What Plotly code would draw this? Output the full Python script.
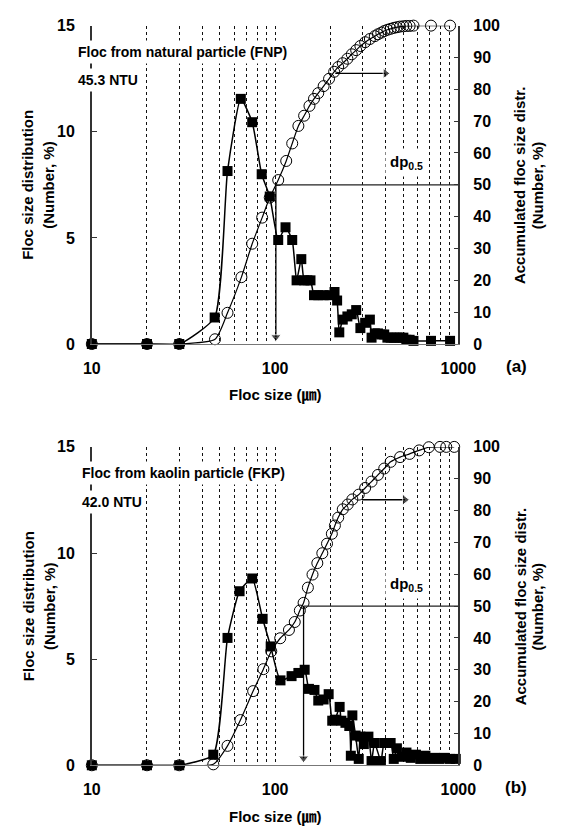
import plotly.graph_objects as go

# ---------------- data ----------------
# (a) Floc from natural particle (FNP)
x_a_sq = [10, 20, 30, 46.8, 55, 65, 75, 84.5, 93.5, 104, 114, 124, 131, 139, 144, 150, 156, 163, 172,
          184, 198, 211, 218, 224, 234, 248, 262, 277, 292, 310, 329, 336, 350, 364, 380, 394, 410, 427,
          445, 462, 480, 501, 520, 542, 569, 709, 901]
y_a_sq = [0, 0, 0, 1.25, 8.15, 11.55, 10.45, 8.0, 6.95, 4.9, 5.5, 4.9, 3.0, 4.0, 3.0, 3.0, 3.0, 2.3, 2.3,
          2.3, 2.3, 2.45, 2.05, 0.55, 1.15, 1.3, 1.4, 1.6, 0.75, 1.0, 1.15, 0.3, 0.5, 0.5, 0.45, 0.45, 0.3, 0.3,
          0.3, 0.3, 0.3, 0.3, 0.2, 0.2, 0.15, 0.15, 0.15]
x_a_cum = [10, 20, 30, 47, 55, 65.5, 75, 85, 93.5, 104, 115, 124, 134, 144, 154, 163, 172, 184, 197,
           210, 221, 234, 248, 262, 277, 292, 310, 329, 350, 364, 380, 394, 410, 427, 445, 462, 480,
           501, 520, 542, 569, 709, 901]
y_a_cum = [0, 0, 0, 1.5, 9.8, 21, 31.5, 39.7, 46, 51.5, 57.5, 63, 68.5, 71.7, 74.8, 77, 78.8, 81, 83.3,
           85.5, 87, 88.2, 89.6, 91, 92.3, 93.6, 94.8, 95.8, 96.7, 97.3, 97.8, 98.3, 98.7, 99.0, 99.3, 99.5,
           99.7, 99.8, 99.9, 99.9, 100, 100, 100]

# (b) Floc from kaolin particle (FKP)
x_b_sq = [10, 20, 30, 46, 55, 64, 75, 85.5, 94.6, 107, 123, 134, 145, 153, 164, 172, 184, 196, 205,
          212, 225, 230, 242, 254, 259, 264, 275, 286, 292, 305, 323, 336, 349, 378, 394, 427, 444, 462,
          490, 521, 550, 587, 620, 661, 700, 746, 790, 841, 900, 968]
y_b_sq = [0, 0, 0, 0.5, 6.0, 8.2, 8.8, 6.9, 5.6, 4.0, 4.2, 4.35, 4.5, 3.6, 3.55, 3.05, 3.1, 3.35, 2.1,
          2.15, 2.75, 2.1, 2.0, 1.85, 0.45, 2.35, 1.4, 0.3, 1.35, 1.0, 1.35, 0.2, 1.05, 0.2, 1.05, 1.05, 0.3, 0.8,
          0.4, 0.6, 0.35, 0.5, 0.3, 0.45, 0.3, 0.35, 0.3, 0.35, 0.3, 0.3]
x_b_cum = [10, 20, 30, 46, 55, 64.7, 75.9, 86.3, 95.3, 106.6, 119, 128, 136.5, 143, 151, 160, 170, 181,
           192, 204, 212, 221, 234, 249, 264, 286, 310, 336, 364, 394, 427, 481, 542, 611, 690, 794, 859, 949]
y_b_cum = [0, 0, 0, 0.3, 6.1, 14.2, 23.3, 30.2, 35.8, 39.9, 42.5, 45.0, 48.6, 51.0, 55.8, 59.9, 63.5, 66.6,
           69.6, 72.7, 75.3, 77.8, 80.4, 81.9, 83.5, 85, 87.1, 89.1, 91.2, 93.2, 95.3, 96.8, 97.8, 98.9, 99.9,
           100, 100, 100]

# dp0.5 markers and the "read on right axis" arrows
dp05 = [101, 143]              # floc size at 50 % accumulated
arrow_y = [85, 83.4]           # accumulated % level of the right-pointing arrow
arrow_x0 = [213, 298]
arrow_x1 = [400, 511]

panel_titles = ["Floc from natural particle (FNP)", "Floc from kaolin particle (FKP)"]
turbidity = ["45.3 NTU", "42.0 NTU"]
panel_tags = ["(a)", "(b)"]

grid_vals = [10, 20, 30, 40, 50, 60, 70, 80, 90, 100, 200, 300, 400, 500, 600, 700, 800, 900, 1000]
grid_text = ["10", "", "", "", "", "", "", "", "", "100", "", "", "", "", "", "", "", "", "1000"]
left_ticks = [0, 5, 10, 15]
right_ticks = list(range(0, 101, 10))

# ---------------- layout geometry (pixels) ----------------
W, H = 563, 836
FONT = "Liberation Sans, Arial, Noto Sans CJK KR, sans-serif"
PX0, PX1 = 87, 472
panels_top = [18, 448]
PH = 325

def px(x):
    return x / W

def py(y):
    return 1 - y / H

fig = go.Figure()
layout = {}
annotations = []

datasets = [(x_a_sq, y_a_sq, x_a_cum, y_a_cum), (x_b_sq, y_b_sq, x_b_cum, y_b_cum)]

for i, (xs, ys, xc, yc) in enumerate(datasets):
    top = panels_top[i]
    bot = top + PH
    xn = "x" if i == 0 else "x2"
    yl = "y" if i == 0 else "y3"
    yr = "y2" if i == 0 else "y4"
    xk = "xaxis" if i == 0 else "xaxis2"
    ylk = "yaxis" if i == 0 else "yaxis3"
    yrk = "yaxis2" if i == 0 else "yaxis4"

    # cumulative (right axis)
    fig.add_trace(go.Scatter(
        x=xc, y=yc, xaxis=xn, yaxis=yr, mode="lines+markers",
        line=dict(color="black", width=1.2, shape="spline", smoothing=0.6),
        marker=dict(symbol="circle-open", size=11, color="black", line=dict(width=1)),
        cliponaxis=False, showlegend=False))
    # 50 % level line
    fig.add_trace(go.Scatter(
        x=[dp05[i], 1000], y=[50, 50], xaxis=xn, yaxis=yr, mode="lines",
        line=dict(color="#222", width=1.3), showlegend=False, hoverinfo="skip"))
    # dp0.5 vertical arrow (down to the axis)
    fig.add_trace(go.Scatter(
        x=[dp05[i], dp05[i]], y=[50, 2.2], xaxis=xn, yaxis=yr, mode="lines+markers",
        line=dict(color="black", width=1.3),
        marker=dict(symbol="triangle-down", size=[0, 9], color="black"),
        cliponaxis=False, showlegend=False, hoverinfo="skip"))
    # right pointing arrow towards the right axis
    fig.add_trace(go.Scatter(
        x=[arrow_x0[i], arrow_x1[i]], y=[arrow_y[i], arrow_y[i]], xaxis=xn, yaxis=yr,
        mode="lines+markers", line=dict(color="black", width=1.3),
        marker=dict(symbol="triangle-right", size=[0, 9], color="black"),
        showlegend=False, hoverinfo="skip"))
    # distribution (left axis)
    fig.add_trace(go.Scatter(
        x=xs, y=ys, xaxis=xn, yaxis=yl, mode="lines+markers",
        line=dict(color="black", width=1.5, shape="spline", smoothing=0.5),
        marker=dict(symbol="square", size=10, color="black"),
        cliponaxis=False, showlegend=False))

    dom_y = [py(bot), py(top)]
    layout[xk] = dict(
        domain=[px(PX0), px(PX1)], anchor=yl, type="log", range=[1, 3],
        tickvals=grid_vals, ticktext=grid_text, ticks="",
        showgrid=True, griddash="dot", gridcolor="#111", gridwidth=1,
        showline=True, linecolor="#777", linewidth=1, zeroline=False,
        tickfont=dict(family=FONT, size=16, color="black", weight="bold"),
        ticklabelstandoff=10)
    layout[ylk] = dict(
        domain=dom_y, anchor=xn, range=[0, 15], tickvals=left_ticks,
        ticks="inside", ticklen=5, tickcolor="#333", showgrid=False, zeroline=False,
        showline=True, linecolor="#333", linewidth=1.5,
        tickfont=dict(family=FONT, size=16, color="black", weight="bold"),
        ticklabelstandoff=12)
    layout[yrk] = dict(
        overlaying=yl, side="right", anchor=xn, range=[0, 100], tickvals=right_ticks,
        ticks="inside", ticklen=5, tickcolor="#333", showgrid=False, zeroline=False,
        showline=True, linecolor="#333", linewidth=1.5,
        tickfont=dict(family=FONT, size=16, color="black", weight="bold"),
        ticklabelstandoff=10)

    f = dict(family=FONT, color="black")
    mid = (top + bot) / 2
    b = lambda s: "<b>" + s + "</b>"
    annotations += [
        dict(text=b(panel_titles[i]), x=px(68 if i == 0 else 72), y=py(top + 27), xref="paper", yref="paper",
             xanchor="left", yanchor="middle", showarrow=False, bgcolor="white", borderpad=3,
             font=dict(size=14, **f)),
        dict(text=b(turbidity[i]), x=px(68 if i == 0 else 72), y=py(top + 56), xref="paper", yref="paper",
             xanchor="left", yanchor="middle", showarrow=False, bgcolor="white", borderpad=3,
             font=dict(size=14, **f)),
        dict(text=b("dp<sub>0.5</sub>"), x=px(417), y=py(top + 140), xref="paper", yref="paper",
             xanchor="center", yanchor="middle", showarrow=False, bgcolor="white", borderpad=4,
             font=dict(size=15, **f)),
        dict(text=b(panel_tags[i]), x=px(533), y=py(bot + 23), xref="paper", yref="paper",
             xanchor="center", yanchor="middle", showarrow=False, font=dict(size=17, **f)),
        dict(text=b("Floc size (㎛)"), x=px((PX0 + PX1) / 2), y=py(bot + 53), xref="paper", yref="paper",
             xanchor="center", yanchor="middle", showarrow=False, font=dict(size=15, **f)),
        dict(text=b("Floc size distribution"), x=px(20), y=py(mid), xref="paper", yref="paper",
             textangle=-90, xanchor="center", yanchor="middle", showarrow=False, font=dict(size=15, **f)),
        dict(text=b("(Number, %)"), x=px(42), y=py(mid), xref="paper", yref="paper",
             textangle=-90, xanchor="center", yanchor="middle", showarrow=False, font=dict(size=15, **f)),
        dict(text=b("Accumulated floc size distr."), x=px(537), y=py(mid), xref="paper", yref="paper",
             textangle=-90, xanchor="center", yanchor="middle", showarrow=False, font=dict(size=15, **f)),
        dict(text=b("(Number, %)"), x=px(555), y=py(mid), xref="paper", yref="paper",
             textangle=-90, xanchor="center", yanchor="middle", showarrow=False, font=dict(size=15, **f)),
    ]

fig.update_layout(
    width=W, height=H, margin=dict(l=0, r=0, t=0, b=0),
    paper_bgcolor="white", plot_bgcolor="white",
    font=dict(family=FONT, color="black"),
    annotations=annotations, showlegend=False,
    **layout)

fig.write_html("out.html")
